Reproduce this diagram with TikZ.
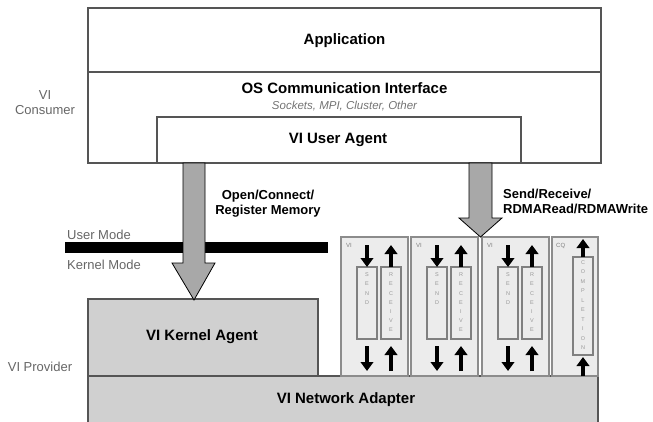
\documentclass[tikz,border=0pt]{standalone}
\usepackage{fontspec}
\setmainfont{Liberation Sans}
\usetikzlibrary{arrows.meta}
\definecolor{edge}{HTML}{555555}
\definecolor{boxfill}{HTML}{D0D0D0}
\definecolor{panelfill}{HTML}{ECECEC}
\definecolor{arrfill}{HTML}{A8A8A8}
\begin{document}
\begin{tikzpicture}[x=1pt,y=-1pt,
  boxlbl/.style={font=\fontsize{15}{17}\selectfont\bfseries, inner sep=0pt},
  sidelbl/.style={font=\fontsize{13}{15}\selectfont, text=black!60, align=center, inner sep=0pt},
  arrlbl/.style={font=\fontsize{13}{15}\selectfont\bfseries, inner sep=0pt},
  panel/.style={draw=black!45, line width=2.4pt, fill=panelfill},
  colbox/.style={draw=black!50, line width=1.3pt, fill=panelfill},
  smallarr/.style={line width=4.5pt, -{Triangle[width=12.5pt,length=9pt]}},
  bigarr/.style={draw=black, line width=0.8pt, fill=arrfill, line join=miter},
  tinylbl/.style={font=\fontsize{6}{7}\selectfont, text=black!50, inner sep=0pt},
  letters/.style={font=\fontsize{5.5}{9.2}\selectfont, text=black!40, align=center, inner sep=0pt}]
\useasboundingbox (0,0) rectangle (653,421);

% top consumer box
\draw[edge, line width=1.2pt] (88,8) rectangle (601,163);
\draw[edge, line width=1.2pt] (88,72) -- (601,72);
\draw[edge, line width=1.2pt] (157,163) |- (521,117) -- (521,163);
\node[boxlbl] (app) at (344.5,41) {Application};
\node[boxlbl] (os) at (344.5,88) {OS Communication Interface};
\node[font=\fontsize{11.5}{13}\selectfont\itshape, text=black!55, inner sep=0pt] (sock) at (344.5,106) {Sockets, MPI, Cluster, Other};
\node[boxlbl] (ua) at (338,140) {VI User Agent};

% side labels
\node[sidelbl] (cons) at (45,103) {VI\\Consumer};
\node[sidelbl] (prov) at (40,367) {VI Provider};

% mode bar
\fill (65,242) rectangle (328,253);
\node[sidelbl, anchor=west] (um) at (67,235) {User Mode};
\node[sidelbl, anchor=west] (km) at (67,265) {Kernel Mode};

% provider boxes
\draw[edge, line width=1.2pt, fill=boxfill] (88,299) rectangle (318,376);
\node[boxlbl] (ka) at (202,337) {VI Kernel Agent};
\draw[edge, line width=1.2pt, fill=boxfill] (88,376) rectangle (598,430);
\node[boxlbl] (na) at (346,400) {VI Network Adapter};

% VI panels
\foreach \l/\n in {341/p1, 411/p2, 482/p3}{
  \draw[panel] (\l,237) rectangle (\l+67,376);
  \node[tinylbl, anchor=west] (\n vi) at (\l+5,245) {VI};
  \draw[colbox] (\l+16,267) rectangle (\l+36,339);
  \draw[colbox] (\l+40,267) rectangle (\l+60,339);
  \node[letters] (\n s) at (\l+26,288.5) {S\\E\\N\\D};
  \node[letters] (\n r) at (\l+50,302.5) {R\\E\\C\\E\\I\\V\\E};
  \draw[smallarr] (\l+26,245) -- (\l+26,267);
  \draw[smallarr] (\l+50,267) -- (\l+50,245);
  \draw[smallarr] (\l+26,346) -- (\l+26,371);
  \draw[smallarr] (\l+50,371) -- (\l+50,346);
}
% CQ panel
\draw[panel] (552,237) rectangle (598,376);
\node[tinylbl, anchor=west] (cq) at (556,246) {CQ};
\draw[colbox] (573,257) rectangle (593,355);
\node[font=\fontsize{5.5}{9.5}\selectfont, text=black!40, align=center, inner sep=0pt] (compl) at (583,305) {C\\O\\M\\P\\L\\E\\T\\I\\O\\N};
\draw[smallarr] (583,257) -- (583,239);
\draw[smallarr] (583,376) -- (583,357);

% big arrows
\coordinate (lbase) at (194,163);
\coordinate (ltip) at (194,300);
\coordinate (rbase) at (480.5,163);
\coordinate (rtip) at (480.5,237);
\draw[bigarr] (183,163) -- (205,163) -- (205,263) -- (215,263) -- (ltip) -- (172,263) -- (183,263) -- cycle;
\draw[bigarr] (469,163) -- (492,163) -- (492,218) -- (502,218) -- (rtip) -- (459,218) -- (469,218) -- cycle;

\node[arrlbl, align=center] (ocl) at (268,204) {Open/Connect/\\Register Memory};
\node[arrlbl, align=left, anchor=west] (srl) at (503,201) {Send/Receive/\\RDMARead/RDMAWrite};
\end{tikzpicture}
\end{document}
